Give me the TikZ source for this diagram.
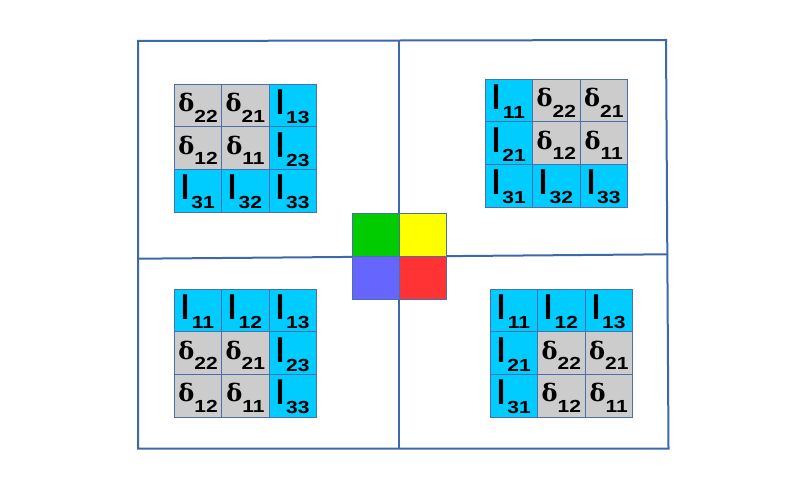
\documentclass[tikz,border=0pt]{standalone}
\usepackage{graphicx}
\usepackage{fontspec}
\setmainfont{Liberation Sans}
\newfontfamily\deltafont{DejaVu Serif}
\definecolor{framec}{HTML}{3D69A8}
\definecolor{bordc}{HTML}{4A70AC}
\definecolor{cyanc}{HTML}{00CCFF}
\definecolor{grayc}{HTML}{CCCCCC}
\definecolor{greenc}{HTML}{00CC00}
\definecolor{yellowc}{HTML}{FFFF00}
\definecolor{bluec}{HTML}{6666FF}
\definecolor{redc}{HTML}{FF3333}
\newcommand\subnum[1]{\scalebox{1.2}[1]{\fontsize{17.5}{18}\selectfont\bfseries #1}}
\newcommand\Vi[1]{\scalebox{0.8}[1]{\fontsize{36}{36}\selectfont\bfseries I}\kern2pt\raisebox{-9pt}{\subnum{#1}}}
\newcommand\Vd[1]{{\deltafont\fontsize{24}{24}\selectfont\bfseries δ}\kern0pt\raisebox{-10.5pt}{\subnum{#1}}}
\tikzset{
  cell/.style={draw=bordc, line width=0.9pt, minimum width=47.4pt, minimum height=42.6pt,
    inner sep=0pt, outer sep=0pt, anchor=north west},
  celli/.style={cell, fill=cyanc, text height=18pt, text depth=0pt},
  celld/.style={cell, fill=grayc, text height=12pt, text depth=0pt},
  frameline/.style={draw=framec, line width=2pt},
  quad/.style={draw=bordc, line width=1pt, minimum width=47pt, minimum height=43pt,
    inner sep=0pt, outer sep=0pt, anchor=north west}
}
\begin{document}
\begin{tikzpicture}[x=1pt,y=-1pt]
\useasboundingbox (0,0) rectangle (810,494);
% frame
\coordinate (ftl) at (138,41);
\coordinate (ftm) at (399,40.5);
\coordinate (ftr) at (666,40);
\coordinate (fml) at (138,258.7);
\coordinate (fmr) at (667.3,254.3);
\coordinate (fbl) at (138,448.7);
\coordinate (fbm) at (399,448.7);
\coordinate (fbr) at (668.5,448.5);
\draw[frameline, line join=miter] (fbl) -- (ftl) -- (ftr) -- (fbr) -- cycle;
\draw[frameline] (fml) -- (fmr);
\draw[frameline] (ftm) -- (fbm);
% centre quads
\node[quad, fill=greenc] (qg) at (352.3,213.3) {};
\node[quad, fill=yellowc] (qy) at (399.3,213.3) {};
\node[quad, fill=bluec] (qb) at (352.3,256.5) {};
\node[quad, fill=redc] (qr) at (399.3,256.5) {};
% top-left grid
\foreach \r/\c/\k/\s in {1/1/d/22,1/2/d/21,1/3/i/13,2/1/d/12,2/2/d/11,2/3/i/23,3/1/i/31,3/2/i/32,3/3/i/33}
  \node[cell\k] (tl\r\c) at ({174.3+(\c-1)*47.4},{84.3+(\r-1)*42.6}) {\csname V\k\endcsname{\s}};
% top-right grid
\foreach \r/\c/\k/\s in {1/1/i/11,1/2/d/22,1/3/d/21,2/1/i/21,2/2/d/12,2/3/d/11,3/1/i/31,3/2/i/32,3/3/i/33}
  \node[cell\k] (tr\r\c) at ({485.3+(\c-1)*47.4},{79.3+(\r-1)*42.6}) {\csname V\k\endcsname{\s}};
% bottom-left grid
\foreach \r/\c/\k/\s in {1/1/i/11,1/2/i/12,1/3/i/13,2/1/d/22,2/2/d/21,2/3/i/23,3/1/d/12,3/2/d/11,3/3/i/33}
  \node[cell\k] (bl\r\c) at ({174.3+(\c-1)*47.4},{289.3+(\r-1)*42.6}) {\csname V\k\endcsname{\s}};
% bottom-right grid
\foreach \r/\c/\k/\s in {1/1/i/11,1/2/i/12,1/3/i/13,2/1/i/21,2/2/d/22,2/3/d/21,3/1/i/31,3/2/d/12,3/3/d/11}
  \node[cell\k] (br\r\c) at ({490.3+(\c-1)*47.4},{289.3+(\r-1)*42.6}) {\csname V\k\endcsname{\s}};
\end{tikzpicture}
\end{document}
